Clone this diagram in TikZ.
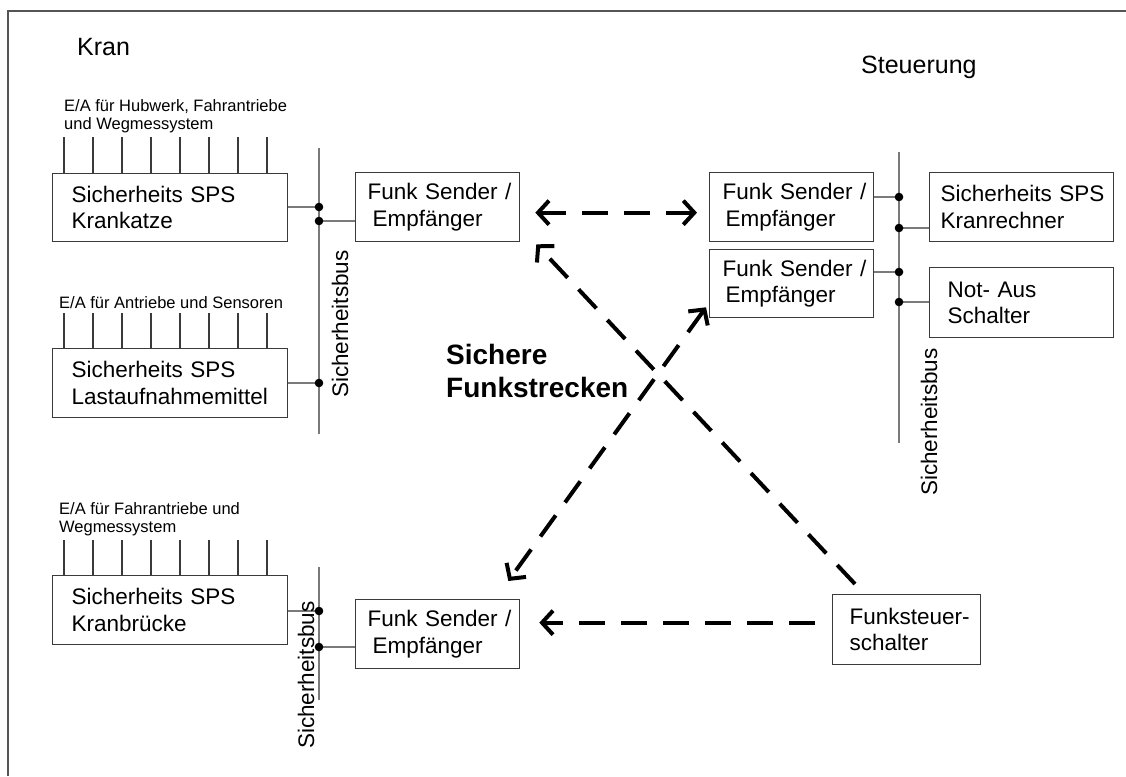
\documentclass[tikz,border=0pt]{standalone}
\usepackage{fontspec}
\setmainfont{Liberation Sans}
\usetikzlibrary{arrows.meta}
\newcommand\fsz[2]{\fontsize{#1}{#2}\selectfont}
\newcommand\lne[1]{\mbox{#1}}
\definecolor{boxc}{HTML}{3A3A3A}
\definecolor{busc}{HTML}{7A7A7A}
\definecolor{framec}{HTML}{555555}
\begin{document}
\begin{tikzpicture}[x=1pt,y=-1pt,
  box/.style={draw=boxc, line width=1.3pt, anchor=north west, align=left,
    inner ysep=0pt, font=\fsz{22.5}{26.5}},
  small/.style={anchor=west, align=left, inner sep=0pt, font=\fsz{16.5}{18.5}},
  tick/.style={draw=boxc, line width=1.2pt},
  bus/.style={draw=busc, line width=2pt},
  conn/.style={draw=busc, line width=1.5pt},
  dot/.style={fill=black},
  buslabel/.style={rotate=90, inner sep=0pt, font=\fsz{22.5}{26.5}},
  arr/.style={line width=4pt, dash pattern=on 26pt off 16pt,
    -{Straight Barb[length=11pt,width=24pt]}},
  darr/.style={line width=4pt, dash pattern=on 26pt off 16pt,
    {Straight Barb[length=11pt,width=24pt]}-{Straight Barb[length=11pt,width=24pt]}}
]
\useasboundingbox (0,0) rectangle (1126,776);
\draw[draw=framec, line width=1.6pt] (8,776) -- (8,11) -- (1126,11);

% titles
\node[anchor=west, inner sep=0pt, font=\fsz{25}{30}] (kran) at (77,47) {Kran};
\node[anchor=west, inner sep=0pt, font=\fsz{25}{30}] (steu) at (861,67) {Steuerung};

% ---- Kran: Krankatze
\node[small] (l1) at (64,116) {E/A für Hubwerk, Fahrantriebe\\und Wegmessystem};
\foreach \x in {64,93,122,151,180,209,238,267} \draw[tick] (\x,137) -- (\x,173);
\node[box, minimum width=235pt, minimum height=68pt, text width=197pt, inner xsep=19pt]
  (k1) at (52,173) {\lne{Sicherheits SPS}\\\lne{Krankatze}};

% ---- Lastaufnahmemittel
\node[small] (l2) at (59,303) {E/A für Antriebe und Sensoren};
\foreach \x in {64,93,122,151,180,209,238,267} \draw[tick] (\x,313) -- (\x,348);
\node[box, minimum width=235pt, minimum height=69pt, text width=197pt, inner xsep=19pt]
  (k2) at (52,348) {\lne{Sicherheits SPS}\\\lne{Lastaufnahmemittel}};

% Funk box 1
\node[box, minimum width=164pt, minimum height=69pt, text width=140pt, inner xsep=12pt]
  (f1) at (355,172) {\lne{Funk Sender /}\\\lne{\hspace*{5pt}Empfänger}};

% bus 1
\coordinate (b1t) at (319,148);
\coordinate (b1b) at (319,434);
\draw[bus] (b1t) -- (b1b);
\coordinate (d1a) at (319,207);
\coordinate (d1b) at (319,221);
\coordinate (d1c) at (319,383);
\draw[conn] (k1.east |- d1a) -- (d1a);
\draw[conn] (d1b) -- (f1.west |- d1b);
\draw[conn] (k2.east |- d1c) -- (d1c);
\foreach \d in {d1a,d1b,d1c} \fill[dot] (\d) circle[radius=4.3pt];
\node[buslabel] (bl1) at (340,324) {Sicherheitsbus};

% ---- Kranbrücke
\node[small] (l3) at (59,519) {E/A für Fahrantriebe und\\Wegmessystem};
\foreach \x in {64,93,122,151,180,209,238,267} \draw[tick] (\x,540) -- (\x,575);
\node[box, minimum width=235pt, minimum height=69pt, text width=197pt, inner xsep=19pt]
  (k3) at (52,575) {\lne{Sicherheits SPS}\\\lne{Kranbrücke}};
\node[box, minimum width=164pt, minimum height=69pt, text width=140pt, inner xsep=12pt]
  (f3) at (355,599) {\lne{Funk Sender /}\\\lne{\hspace*{5pt}Empfänger}};
\coordinate (b3t) at (319,567);
\coordinate (b3b) at (319,700);
\draw[bus] (b3t) -- (b3b);
\coordinate (d3a) at (319,611);
\coordinate (d3b) at (319,647);
\draw[conn] (k3.east |- d3a) -- (d3a);
\draw[conn] (d3b) -- (f3.west |- d3b);
\foreach \d in {d3a,d3b} \fill[dot] (\d) circle[radius=4.3pt];
\node[buslabel] (bl3) at (306,675) {Sicherheitsbus};

% ---- Steuerung
\node[box, minimum width=164pt, minimum height=69pt, text width=138pt, inner xsep=13pt]
  (r1) at (709,172) {\lne{Funk Sender /}\\\lne{\hspace*{3pt}Empfänger}};
\node[box, minimum width=164pt, minimum height=68pt, text width=138pt, inner xsep=13pt]
  (r2) at (709,249) {\lne{Funk Sender /}\\\lne{\hspace*{3pt}Empfänger}};
\node[box, minimum width=184pt, minimum height=69pt, text width=162pt, inner xsep=11pt]
  (kr) at (929,172) {\lne{Sicherheits SPS}\\\lne{Kranrechner}};
\node[box, minimum width=184pt, minimum height=70pt, text width=148pt, inner xsep=18pt]
  (na) at (929,267) {\lne{Not- Aus}\\\lne{Schalter}};
\coordinate (b2t) at (899,152);
\coordinate (b2b) at (899,443);
\draw[bus] (b2t) -- (b2b);
\coordinate (d2a) at (899,197);
\coordinate (d2b) at (899,228);
\coordinate (d2c) at (899,272);
\coordinate (d2d) at (899,302);
\draw[conn] (r1.east |- d2a) -- (d2a);
\draw[conn] (d2b) -- (kr.west |- d2b);
\draw[conn] (r2.east |- d2c) -- (d2c);
\draw[conn] (d2d) -- (na.west |- d2d);
\foreach \d in {d2a,d2b,d2c,d2d} \fill[dot] (\d) circle[radius=4.3pt];
\node[buslabel] (bl2) at (929,422) {Sicherheitsbus};

% Funksteuerschalter
\node[box, minimum width=148pt, minimum height=70pt, text width=114pt, inner xsep=17pt]
  (fs) at (832,594) {\lne{Funksteuer-}\\\lne{schalter}};

% Sichere Funkstrecken
\node[anchor=west, align=left, inner sep=0pt, font=\bfseries\fsz{28}{33}] (sf) at (446,371)
  {Sichere\\Funkstrecken};

% radio links
\draw[darr] ([shift={(15,5.5)}]f1.east) -- ([shift={(-12,5.5)}]r1.west);
\draw[arr] ([shift={(23,-10)}]fs.north west) -- ([shift={(16,2)}]f1.south east);
\draw[darr] ([shift={(-3,-11)}]r2.south west) -- ([shift={(-12,-18)}]f3.north east);
\draw[arr] ([shift={(-17,-7)}]fs.west) -- ([shift={(19,-11.5)}]f3.east);
\end{tikzpicture}
\end{document}
